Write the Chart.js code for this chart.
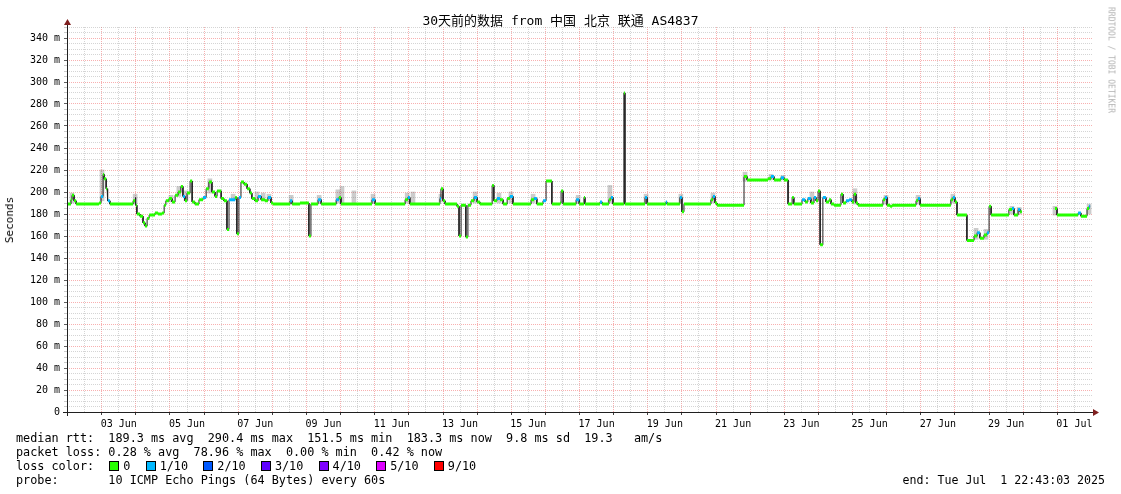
<!DOCTYPE html>
<html>
<head>
<meta charset="utf-8">
<script src="https://cdn.jsdelivr.net/npm/chart.js@4"></script>
<style>
  body { margin: 0; background: #fff; }
  #wrap { position: relative; width: 1121px; height: 494px; font-family: "DejaVu Sans Mono", "Noto Sans CJK SC", monospace; color: #000; }
  canvas { position: absolute; left: 0; top: 0; }
  .txt { position: absolute; white-space: pre; }
  #title { left: 0; width: 1121px; top: 12px; text-align: center; font-size: 13px; line-height: 18px; }
  #ylab { left: 10px; top: 220px; font-size: 11px; line-height: 12px; transform: translate(-50%, -50%) rotate(-90deg); }
  #mark { left: 1111px; top: 60px; font-size: 8px; line-height: 9px; color: #b4b4b4; transform: translate(-50%, -50%) rotate(90deg); }
  #legend { left: 16px; top: 431px; font-size: 11.8px; line-height: 14px; }
  #end { right: 16px; top: 473px; font-size: 11.6px; line-height: 14px; }
  .sw { display: inline-block; width: 8px; height: 8px; border: 1px solid #000; margin: 0 4px 0 1px; vertical-align: -1px; }
</style>
</head>
<body>
<div id="wrap">
  <canvas id="chart" width="1121" height="494"></canvas>
  <div class="txt" id="title">30天前的数据 from 中国 北京 联通 AS4837</div>
  <div class="txt" id="ylab">Seconds</div>
  <div class="txt" id="mark">RRDTOOL / TOBI OETIKER</div>
  <div class="txt" id="legend"></div>
  <div class="txt" id="end">end: Tue Jul  1 22:43:03 2025</div>
</div>
<script>
// time axis: days since 1 Jun 00:00
const xMin = 0.983;
const xMax = 31.045;
const endT = 30.96;

const dayLabelAt = [2.5, 4.5, 6.5, 8.5, 10.5, 12.5, 14.5, 16.5, 18.5, 20.5, 22.5, 24.5, 26.5, 28.5, 30.5];
const dayLabels = ["03 Jun", "05 Jun", "07 Jun", "09 Jun", "11 Jun", "13 Jun", "15 Jun", "17 Jun",
  "19 Jun", "21 Jun", "23 Jun", "25 Jun", "27 Jun", "29 Jun", "01 Jul"];

// median rtt (ms): each value holds from segT[i] until segT[i+1]
const segT = [0.98, 1.10, 1.13, 1.19, 1.25, 1.92, 1.98, 2.04, 2.07, 2.13, 2.16, 2.18, 2.24, 2.92, 2.98,
  3.00, 3.03, 3.12, 3.21, 3.27, 3.33, 3.39, 3.56, 3.65, 3.77, 3.83, 3.88, 3.97, 4.06, 4.15,
  4.24, 4.32, 4.38, 4.44, 4.50, 4.59, 4.65, 4.73, 4.85, 4.97, 5.06, 5.14, 5.23, 5.32, 5.38,
  5.50, 5.58, 5.67, 5.73, 5.82, 5.91, 5.96, 6.02, 6.08, 6.17, 6.26, 6.34, 6.40, 6.49, 6.58,
  6.67, 6.78, 6.87, 6.96, 7.02, 7.52, 7.58, 7.81, 8.07, 8.13, 8.34, 8.43, 8.87, 8.95, 9.01,
  9.92, 10.01, 10.89, 10.97, 11.03, 11.91, 11.94, 12.00, 12.06, 12.41, 12.47, 12.53, 12.67, 12.73, 12.82,
  12.91, 13.00, 13.08, 13.44, 13.49, 13.58, 13.67, 13.76, 13.88, 13.96, 14.05, 14.58, 14.67, 14.75, 14.93,
  15.02, 15.19, 15.43, 15.46, 15.52, 15.90, 15.99, 16.13, 16.16, 16.60, 16.66, 16.86, 16.92, 16.98, 17.30,
  17.33, 17.92, 17.98, 18.53, 18.56, 18.94, 19.00, 19.06, 19.85, 19.91, 19.97, 20.03, 20.82, 20.91, 21.52,
  21.61, 21.70, 21.90, 21.99, 22.11, 22.23, 22.28, 22.52, 22.61, 22.69, 22.78, 22.87, 22.93, 22.99, 23.05,
  23.13, 23.22, 23.31, 23.37, 23.46, 23.66, 23.72, 23.81, 23.90, 23.98, 24.04, 24.10, 24.16, 24.89, 24.95,
  25.01, 25.10, 25.16, 25.86, 25.92, 25.98, 26.88, 26.94, 27.00, 27.06, 27.35, 27.56, 27.65, 27.73, 27.85,
  27.94, 28.00, 28.06, 28.58, 28.67, 28.73, 28.85, 28.91, 28.96, 29.93, 29.99, 30.61, 30.69, 30.87, 30.93];
const segMs = [189, 193, 197, 192, 189, 190, 196, 216, 212, 203, 197, 192, 189, 192, 195,
  188, 180, 178, 172, 169, 176, 179, 181, 180, 181, 188, 192, 194, 191, 197,
  200, 205, 196, 192, 199, 210, 191, 189, 193, 195, 203, 209, 200, 196, 201,
  194, 192, 166, 193, 193, 195, 162, 195, 209, 207, 203, 199, 194, 192, 196,
  193, 192, 195, 190, 189, 192, 189, 190, 160, 189, 193, 189, 193, 195, 189,
  193, 189, 193, 195, 189, 194, 203, 192, 189, 187, 160, 188, 159, 188, 192,
  195, 191, 189, 206, 192, 194, 193, 189, 194, 196, 189, 193, 194, 189, 192,
  210, 189, 190, 201, 189, 193, 189, 195, 189, 191, 189, 193, 195, 189, 290,
  189, 195, 189, 191, 189, 195, 182, 189, 193, 196, 190, 188, 214, 211, 212,
  214, 211, 213, 211, 189, 195, 189, 193, 191, 194, 190, 195, 192, 201, 152,
  195, 191, 193, 189, 188, 198, 190, 192, 193, 191, 198, 190, 188, 193, 195,
  188, 187, 188, 192, 194, 188, 193, 195, 191, 179, 156, 160, 163, 158, 161,
  163, 187, 179, 184, 185, 179, 184, 182, null, 185, 179, 181, 178, 185, 187];
// packet loss bucket per segment (0 = none, 1 = 1/10)
const segLoss = [0, 0, 0, 0, 0, 0, 1, 0, 0, 0, 0, 1, 0, 0, 1,
  0, 0, 0, 0, 0, 0, 0, 0, 0, 0, 0, 0, 0, 0, 0,
  0, 0, 1, 0, 0, 0, 0, 0, 0, 1, 0, 0, 0, 0, 0,
  0, 0, 0, 1, 1, 0, 0, 1, 0, 0, 0, 0, 0, 0, 1,
  0, 0, 1, 0, 0, 1, 0, 0, 0, 0, 1, 0, 1, 0, 0,
  1, 0, 0, 1, 0, 1, 0, 0, 0, 0, 0, 0, 0, 0, 0,
  1, 0, 0, 0, 0, 1, 0, 0, 0, 1, 0, 0, 1, 0, 1,
  0, 0, 0, 0, 0, 1, 0, 0, 0, 1, 0, 0, 1, 0, 0,
  0, 1, 0, 1, 0, 1, 0, 0, 0, 1, 0, 0, 0, 0, 0,
  1, 0, 1, 0, 0, 0, 0, 1, 0, 1, 0, 1, 0, 0, 0,
  1, 0, 0, 0, 0, 0, 0, 1, 1, 0, 0, 0, 0, 0, 1,
  0, 0, 0, 0, 1, 0, 0, 1, 0, 0, 0, 0, 1, 0, 0,
  1, 0, 0, 0, 1, 0, 1, 0, 0, 0, 0, 1, 0, 0, 1];

// smoke (spread of the 10 pings) around bumps
const smokeT = [1.13, 2.01, 2.98, 4.03, 4.26, 4.47, 5.17, 5.85, 6.55, 6.73, 6.90, 7.55, 8.37, 8.92, 9.04,
  9.39, 9.95, 10.95, 11.12, 11.94, 12.94, 13.64, 13.99, 14.64, 15.96, 16.89, 17.95, 18.97, 19.91, 20.85,
  21.61, 21.96, 22.81, 24.07, 24.98, 25.92, 26.94, 27.62, 27.91, 28.67, 28.88, 29.93, 30.93];
const smokeLo = [190, 192, 189, 191, 196, 192, 199, 192, 192, 192, 192, 189, 190, 190, 189,
  189, 190, 190, 189, 191, 190, 190, 190, 190, 190, 190, 190, 190, 190, 210,
  211, 211, 190, 189, 189, 189, 190, 157, 157, 180, 180, 179, 180];
const smokeHi = [199, 220, 198, 197, 205, 201, 212, 198, 200, 199, 198, 197, 197, 202, 205,
  201, 198, 199, 200, 198, 200, 199, 200, 198, 197, 206, 198, 198, 199, 218,
  216, 215, 200, 203, 197, 197, 198, 167, 166, 187, 186, 187, 189];

const lossColors = ["#26ff00", "#00b8ff", "#0059ff", "#5e00ff", "#7e00ff", "#dd00ff", "#ff0000"];
const lossLabels = ["0", "1/10", "2/10", "3/10", "4/10", "5/10", "9/10"];

const statLines = [
  "median rtt:  189.3 ms avg  290.4 ms max  151.5 ms min  183.3 ms now  9.8 ms sd  19.3   am/s",
  "packet loss: 0.28 % avg  78.96 % max  0.00 % min  0.42 % now"
];
const probeLine = "probe:       10 ICMP Echo Pings (64 Bytes) every 60s";

function segEnd(i) {
  return i + 1 < segT.length ? segT[i + 1] : endT;
}

function medianLine() {
  const pts = [];
  for (let i = 0; i < segT.length; i++) {
    if (segMs[i] === null) {
      pts.push({ x: segT[i], y: null });
      continue;
    }
    pts.push({ x: segT[i], y: segMs[i] }, { x: segEnd(i), y: segMs[i] });
  }
  return pts;
}

function lossBand(level) {
  const pts = [];
  for (let i = 0; i < segT.length; i++) {
    if (segMs[i] === null || segLoss[i] !== level) continue;
    pts.push({ x: segT[i], y: segMs[i] }, { x: segEnd(i), y: segMs[i] }, { x: segEnd(i), y: null });
  }
  return pts;
}

const smoke = smokeT.map((t, i) => ({ x: t, y: [smokeLo[i], smokeHi[i]] }));

// legend block below the chart
let html = statLines.join("\n") + "\nloss color:  ";
lossLabels.forEach((l, i) => {
  html += '<span class="sw" style="background:' + lossColors[i] + '"></span>' + l + (i < lossLabels.length - 1 ? "  " : "");
});
html += "\n" + probeLine;
document.getElementById("legend").innerHTML = html;

const isWhole = (v) => Math.abs(v - Math.round(v)) < 1e-6;

const axisArrows = {
  id: "axisArrows",
  afterDatasetsDraw(chart) {
    const { ctx, chartArea: a } = chart;
    ctx.save();
    ctx.strokeStyle = "#202020";
    ctx.lineWidth = 1;
    ctx.beginPath();
    ctx.moveTo(a.left - 4, a.bottom + 0.5);
    ctx.lineTo(a.right + 2, a.bottom + 0.5);
    ctx.moveTo(a.left + 0.5, a.bottom + 4);
    ctx.lineTo(a.left + 0.5, a.top - 3);
    ctx.stroke();
    ctx.fillStyle = "#7f1f1f";
    ctx.beginPath();
    ctx.moveTo(a.left + 0.5, a.top - 8);
    ctx.lineTo(a.left - 3, a.top - 2);
    ctx.lineTo(a.left + 4, a.top - 2);
    ctx.closePath();
    ctx.fill();
    ctx.beginPath();
    ctx.moveTo(a.right + 6, a.bottom + 0.5);
    ctx.lineTo(a.right, a.bottom - 3);
    ctx.lineTo(a.right, a.bottom + 4);
    ctx.closePath();
    ctx.fill();
    ctx.restore();
  }
};

new Chart("chart", {
  type: "line",
  data: {
    datasets: [
      {
        type: "bar",
        data: smoke,
        backgroundColor: "rgba(110,110,110,0.35)",
        barThickness: 4,
        order: 4,
      },
      {
        data: medianLine(),
        borderColor: "#202020",
        borderWidth: 1,
        pointRadius: 0,
        spanGaps: false,
        order: 3,
      },
      {
        data: lossBand(0),
        borderColor: lossColors[0],
        borderWidth: 3,
        borderCapStyle: "butt",
        pointRadius: 0,
        spanGaps: false,
        order: 2,
      },
      {
        data: lossBand(1),
        borderColor: lossColors[1],
        borderWidth: 3,
        borderCapStyle: "butt",
        pointRadius: 0,
        spanGaps: false,
        order: 1,
      },
    ],
  },
  options: {
    responsive: false,
    animation: false,
    layout: { padding: { left: 0, top: 27, right: 28, bottom: 62 } },
    plugins: {
      legend: { display: false },
      tooltip: { enabled: false },
    },
    scales: {
      x: {
        type: "linear",
        min: xMin,
        max: xMax,
        offset: false,
        afterFit: (scale) => { scale.height = 20; },
        afterBuildTicks: (scale) => {
          const ticks = [];
          for (let v = 1; v <= 30.5; v += 0.5) ticks.push({ value: v });
          scale.ticks = ticks;
        },
        grid: {
          offset: false,
          lineWidth: 1,
          color: (c) => (isWhole(c.tick.value) ? "rgba(240,80,80,0.45)" : "rgba(150,150,150,0.4)"),
          tickLength: 3,
          tickColor: (c) => (isWhole(c.tick.value) ? "#404040" : "rgba(0,0,0,0)"),
        },
        border: { display: false, dash: [1, 1] },
        ticks: {
          autoSkip: false,
          maxRotation: 0,
          padding: 3,
          color: "#000",
          font: { family: "DejaVu Sans Mono", size: 10 },
          callback: (value) => {
            const i = dayLabelAt.findIndex((p) => Math.abs(p - value) < 1e-6);
            return i < 0 ? "" : dayLabels[i];
          },
        },
      },
      y: {
        min: 0,
        max: 350,
        afterFit: (scale) => { scale.width = 67; },
        afterBuildTicks: (scale) => {
          const ticks = [];
          for (let v = 0; v <= 350; v += 5) ticks.push({ value: v });
          scale.ticks = ticks;
        },
        grid: {
          lineWidth: 1,
          color: (c) => (c.tick.value % 20 === 0 ? "rgba(240,80,80,0.45)" : "rgba(150,150,150,0.4)"),
          tickLength: 3,
          tickColor: (c) => (c.tick.value % 20 === 0 ? "#606060" : "rgba(150,150,150,0.5)"),
        },
        border: { display: false, dash: [1, 1] },
        ticks: {
          autoSkip: false,
          padding: 4,
          color: "#000",
          font: { family: "DejaVu Sans Mono", size: 10 },
          callback: (value) => (value % 20 !== 0 ? "" : value === 0 ? "0" : value + " m"),
        },
      },
    },
  },
  plugins: [axisArrows],
});
</script>
</body>
</html>
